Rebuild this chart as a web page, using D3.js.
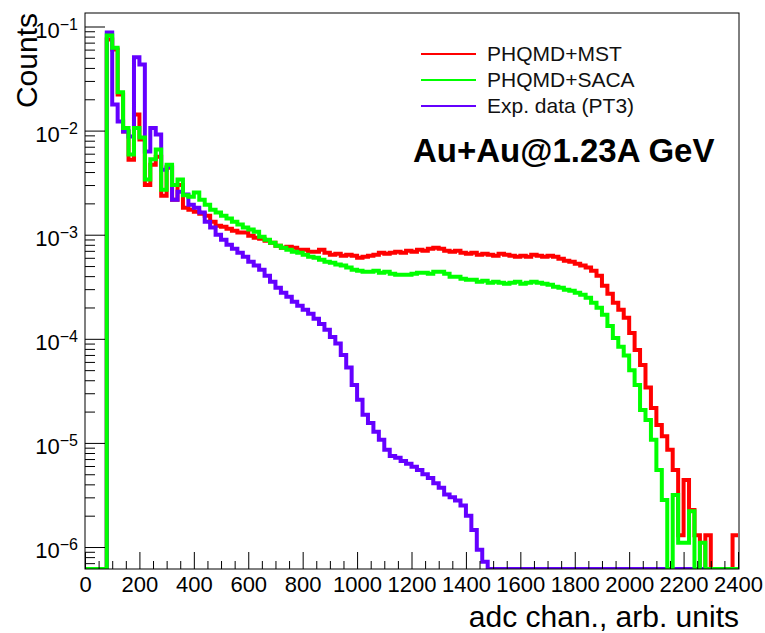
<!DOCTYPE html>
<meta charset="utf-8">
<script src="https://d3js.org/d3.v7.min.js"></script>
<style>
body { margin: 0; background: #fff; }
text { font-family: "Liberation Sans", Arial, Helvetica, sans-serif; }
</style>
<div id="chart"></div>
<script>
// bin contents, 20 adc channels per bin, 0..2400
var binWidth = 20;
var mst = [0,0,0,0,
  0.075,0.060,0.0222,0.0098,0.00526,0.0143,0.0082,0.0030,0.0047,0.0056,
  0.00237,0.0044,0.00217,0.0030,0.00182,0.00174,0.00166,0.00159,0.00152,0.00133,
  0.00122,0.00119,0.00114,0.00109,0.00105,0.00105,0.000978,0.000936,0.000915,0.000875,
  0.000837,0.000784,0.00075,0.000767,0.00075,0.000718,0.000718,0.000687,0.000687,0.000718,
  0.000672,0.000643,0.000657,0.000629,0.000643,0.000629,0.000601,0.000615,0.000629,0.000643,
  0.000672,0.000657,0.000672,0.000687,0.000672,0.000702,0.000687,0.000718,0.000702,0.000734,
  0.00075,0.000734,0.000702,0.000687,0.000702,0.000672,0.000657,0.000672,0.000643,0.000657,
  0.000643,0.000629,0.000657,0.000643,0.000629,0.000615,0.000629,0.000615,0.000643,0.000629,
  0.000615,0.000629,0.000615,0.000588,0.000563,0.000551,0.000527,0.000505,0.000483,0.000451,
  0.000404,0.000323,0.000271,0.000222,0.00019,0.000159,0.000114,7.8e-5,5.6e-5,3.4e-5,
  2.17e-5,1.49e-5,1.16e-5,8.6e-6,5.5e-6,1.3e-6,4.4e-6,2.27e-6,1.3e-6,0,
  1.3e-6,0,0,0,0,1.3e-6];
var saca = [0,0,0,0,
  0.082,0.0625,0.0233,0.0106,0.0059,0.0106,0.0086,0.0034,0.0053,0.0066,
  0.0027,0.0047,0.0030,0.0034,0.0024,0.00232,0.00254,0.00217,0.00194,0.00174,
  0.00163,0.00152,0.00143,0.00133,0.00125,0.00117,0.00112,0.00107,0.000957,0.000895,
  0.000837,0.000784,0.00075,0.000718,0.000687,0.000672,0.000643,0.000615,0.000601,0.000576,
  0.000551,0.000539,0.000516,0.000505,0.000483,0.000461,0.000451,0.000441,0.000441,0.000451,
  0.000431,0.000441,0.000422,0.000413,0.000413,0.000413,0.000422,0.000431,0.000431,0.000422,
  0.000441,0.000441,0.000422,0.000395,0.000395,0.000378,0.000369,0.000369,0.000353,0.000361,
  0.000345,0.000353,0.000345,0.000338,0.000345,0.000353,0.000338,0.000345,0.000353,0.000345,
  0.000338,0.00033,0.000316,0.000309,0.000296,0.000289,0.000277,0.000265,0.000248,0.000222,
  0.000199,0.00017,0.000133,0.000102,8.4e-5,6.9e-5,5.0e-5,3.6e-5,2.07e-5,1.66e-5,
  1.07e-5,5.5e-6,2.83e-6,0,3.16e-6,1.1e-6,1.1e-6,2.2e-6,0,1.1e-6,
  0,0,0,0,0,0];
var expData = [0,0,0,0,
  0.0875,0.0178,0.0122,0.0098,0.0088,0.0506,0.0432,0.0063,0.0106,0.0092,
  0.0042,0.0045,0.00217,0.00259,0.00243,0.00194,0.00182,0.00163,0.00133,0.00117,
  0.00100,0.000895,0.000802,0.000734,0.000672,0.000615,0.000551,0.000505,0.000461,0.000404,
  0.000353,0.000309,0.000277,0.000254,0.000227,0.000208,0.00019,0.000174,0.000156,0.000139,
  0.000122,0.000104,9.0e-5,7.0e-5,5.3e-5,3.6e-5,2.6e-5,1.86e-5,1.55e-5,1.28e-5,
  1.07e-5,8.6e-6,7.5e-6,7.2e-6,6.7e-6,6.3e-6,5.9e-6,5.5e-6,5.0e-6,4.6e-6,
  4.1e-6,3.7e-6,3.2e-6,3.0e-6,2.8e-6,2.5e-6,2.0e-6,1.46e-6,9.4e-7,7.2e-7,
  0,0,0,0,0,0,0,0,0,0,
  0,0,0,0,0,0,0,0,0,0,
  0,0,0,0,0,0,0,0,0,0,
  0,0,0,0,0,0,0,0,0,0,
  0,0,0,0,0,0];

var legendNames = ["PHQMD+MST", "PHQMD+SACA", "Exp. data (PT3)"];
var legendColors = ["#ff0000", "#00ff00", "#6400ff"];
var xMajor = [0,200,400,600,800,1000,1200,1400,1600,1800,2000,2200,2400];
var yExponents = [-6,-5,-4,-3,-2,-1];

// axis limits
var xMin = 0, xMax = 2400;
var yMin = 6.15e-7, yMax = 0.1348;

var width = 765, height = 633;
var frame = {left: 85, right: 739, top: 13, bottom: 569};

var svg = d3.select("#chart").append("svg")
  .attr("width", width).attr("height", height);

var x = d3.scaleLinear().domain([xMin, xMax]).range([85, 738]);
var y = d3.scaleLog().domain([yMin, yMax]).range([frame.bottom, frame.top]);

svg.append("clipPath").attr("id", "clip")
  .append("rect")
    .attr("x", frame.left).attr("y", frame.top)
    .attr("width", frame.right - frame.left).attr("height", frame.bottom - frame.top);

// histograms as steps, empty bins sit on the floor
function histPoints(vals) {
  var pts = vals.map(function(v, i) { return [i * binWidth, Math.max(v, yMin)]; });
  pts.push([vals.length * binWidth, Math.max(vals[vals.length - 1], yMin)]);
  return pts;
}
var line = d3.line()
  .x(function(d) { return x(d[0]); })
  .y(function(d) { return y(d[1]); })
  .curve(d3.curveStepAfter);

var series = [
  {vals: mst, color: legendColors[0]},
  {vals: expData, color: legendColors[2]},
  {vals: saca, color: legendColors[1]}
];
svg.append("g").attr("clip-path", "url(#clip)")
  .selectAll("path")
  .data(series)
  .enter()
  .append("path")
    .attr("d", function(d) { return line(histPoints(d.vals)); })
    .attr("fill", "none")
    .attr("stroke", function(d) { return d.color; })
    .attr("stroke-width", 4)
    .attr("stroke-linejoin", "miter");

// x axis
var xMinor = d3.range(0, 2401, 50).filter(function(v) { return v % 200 != 0; });
var gxMinor = svg.append("g")
  .attr("transform", "translate(0," + frame.bottom + ")")
  .call(d3.axisBottom(x).tickValues(xMinor).tickSize(-8).tickFormat(""));
var gx = svg.append("g")
  .attr("transform", "translate(0," + frame.bottom + ")")
  .call(d3.axisBottom(x).tickValues(xMajor).tickSize(-17).tickPadding(7.5).tickFormat(d3.format("d")));
gx.selectAll("text").attr("font-size", 22).attr("fill", "#000")
  .style("font-family", "'Liberation Sans', Arial, sans-serif");

// y axis
var yMajor = yExponents.map(function(e) { return Math.pow(10, e); });
var yMinorVals = [];
[-7,-6,-5,-4,-3,-2,-1].forEach(function(e) {
  for (var k = 2; k <= 9; k++) {
    var v = k * Math.pow(10, e);
    if (v >= yMin && v <= yMax) yMinorVals.push(v);
  }
});
var gyMinor = svg.append("g")
  .attr("transform", "translate(" + frame.left + ",0)")
  .call(d3.axisLeft(y).tickValues(yMinorVals).tickSize(-10).tickFormat(""));
var gy = svg.append("g")
  .attr("transform", "translate(" + frame.left + ",0)")
  .call(d3.axisLeft(y).tickValues(yMajor).tickSize(-20).tickFormat(""));

[gxMinor, gx, gyMinor, gy].forEach(function(g) {
  g.select(".domain").remove();
  g.selectAll("line").attr("stroke", "#000");
});

// y labels 10^e
var yLab = svg.append("g").selectAll("text")
  .data(yExponents)
  .enter()
  .append("text")
    .attr("x", 78)
    .attr("y", function(e) { return y(Math.pow(10, e)) + 11; })
    .attr("text-anchor", "end")
    .attr("font-size", 22);
yLab.append("tspan").text("10");
yLab.append("tspan")
  .attr("dy", -8).attr("font-size", 16)
  .text(function(e) { return "\u2212" + Math.abs(e); });

// frame
svg.append("rect")
  .attr("x", frame.left).attr("y", frame.top)
  .attr("width", frame.right - frame.left).attr("height", frame.bottom - frame.top)
  .attr("fill", "none").attr("stroke", "#000").attr("stroke-width", 1);

// axis titles
svg.append("text")
  .attr("x", 739).attr("y", 627)
  .attr("text-anchor", "end")
  .attr("font-size", 30)
  .text("adc chan., arb. units");
svg.append("text")
  .attr("transform", "translate(37,13) rotate(-90)")
  .attr("text-anchor", "end")
  .attr("font-size", 30)
  .text("Counts");

// legend
var leg = svg.append("g").selectAll("g")
  .data(legendNames)
  .enter()
  .append("g")
    .attr("transform", function(d, i) { return "translate(0," + (54 + i * 26) + ")"; });
leg.append("line")
  .attr("x1", 421).attr("x2", 476)
  .attr("stroke", function(d, i) { return legendColors[i]; })
  .attr("stroke-width", 2);
leg.append("text")
  .attr("x", 487).attr("y", 7)
  .attr("font-size", 21)
  .attr("fill", "#111")
  .text(function(d) { return d; });

svg.append("text")
  .attr("x", 413).attr("y", 162)
  .attr("font-size", 33)
  .attr("font-weight", "bold")
  .text("Au+Au@1.23A GeV");
</script>
